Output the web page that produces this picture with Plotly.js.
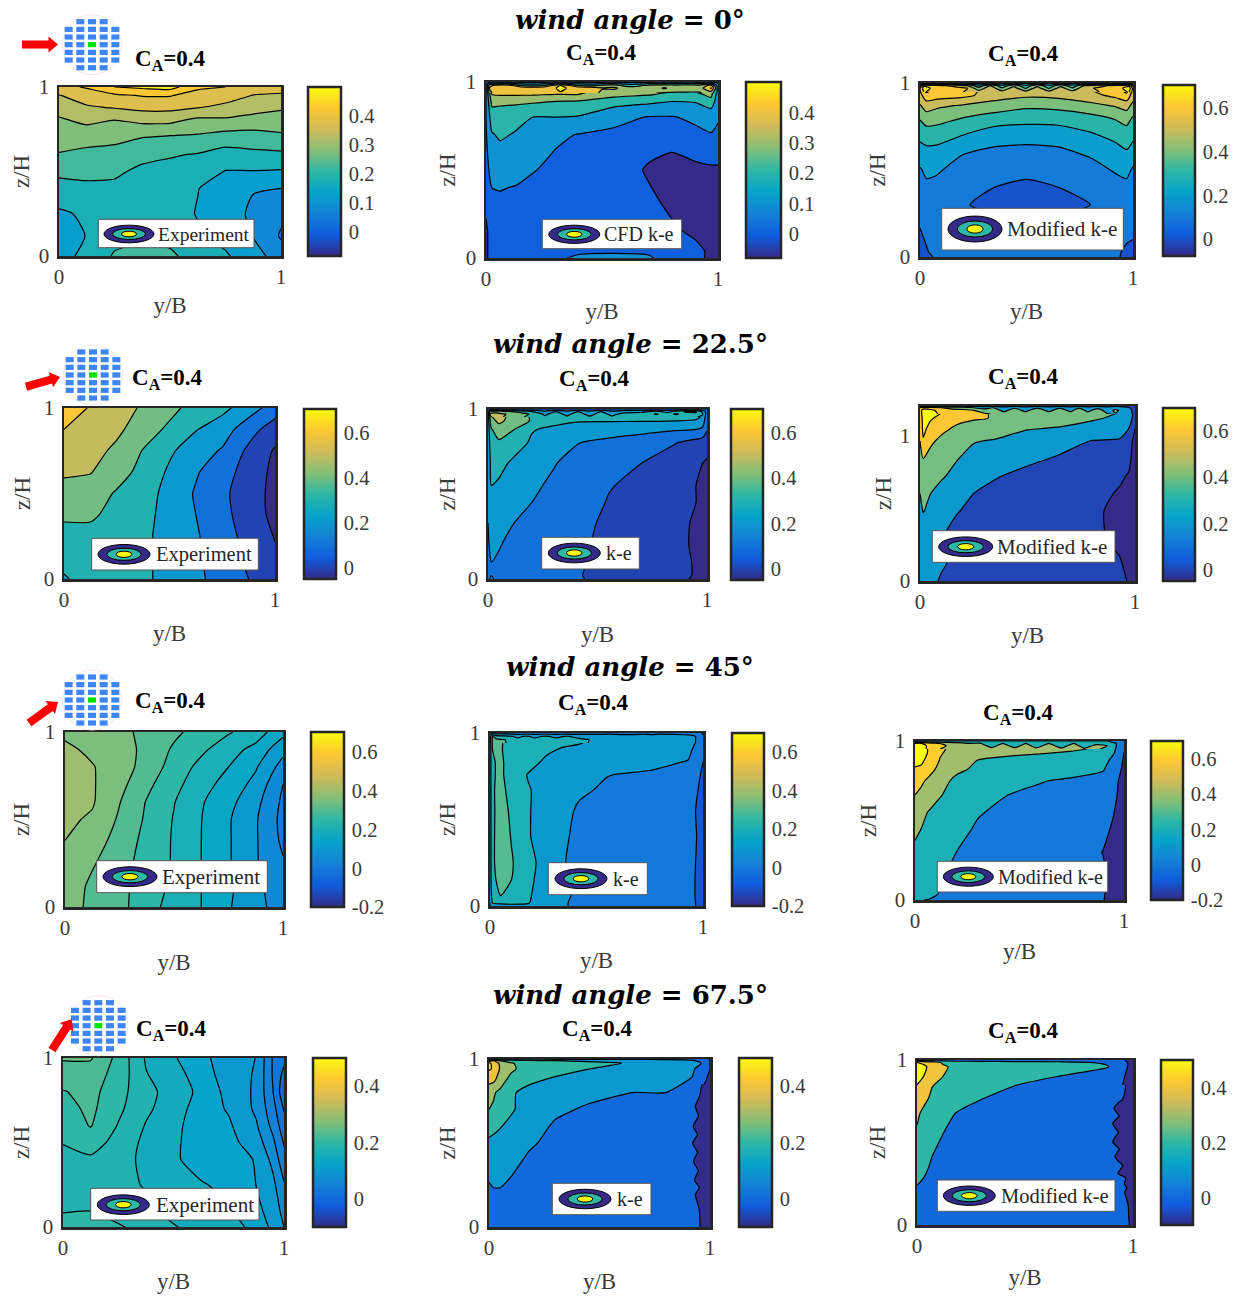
<!DOCTYPE html>
<html>
<head>
<meta charset="utf-8">
<script src="https://cdn.plot.ly/plotly-3.0.1.min.js"></script>
<style>html,body{margin:0;padding:0;background:#fff}#chart{width:1243px;height:1299px}</style>
</head>
<body>
<div id="chart"></div>
<script>
// ---------- readings of the pressure-coefficient fields (rows run bottom to top) ----------
const p1X=[0,.125,.25,.375,.5,.625,.75,.875,1];
const p1Y=[0,.12,.25,.4,.5,.6,.7,.8,.88,.95,1];
const p1Z=[
[.13,.165,.205,.225,.212,.17,.155,.125,.07],
[.12,.152,.185,.185,.18,.155,.137,.098,.045],
[.143,.157,.175,.17,.165,.148,.125,.09,.06],
[.18,.19,.19,.177,.172,.151,.135,.103,.10],
[.212,.212,.208,.19,.185,.177,.148,.148,.145],
[.247,.237,.233,.213,.204,.197,.18,.188,.19],
[.27,.268,.262,.25,.242,.24,.225,.227,.238],
[.292,.31,.297,.31,.31,.286,.29,.278,.277],
[.32,.344,.354,.365,.365,.353,.336,.322,.307],
[.348,.375,.39,.403,.403,.38,.375,.348,.343],
[.385,.405,.45,.46,.47,.41,.40,.375,.37]];

const p2X=[0,.025,.06,.13,.2,.3,.4,.55,.7,.8,.9,.97,1];
const p2Y=[0,.04,.15,.3,.4,.5,.6,.7,.8,.87,.93,.97,.99,1];
const p2Z=[
[-.08,.02,.02,.02,.02,.03,.07,.08,.065,.0,-.02,-.07,-.08],
[-.08,.02,.02,.02,.02,.02,.03,.035,.03,.0,-.02,-.07,-.08],
[-.07,.0,.02,.02,.02,.02,.02,.02,.0,-.03,-.07,-.08,-.08],
[-.03,.03,.03,.025,.02,.02,.015,.01,-.02,-.07,-.08,-.08,-.08],
[.0,.05,.055,.045,.03,.02,.01,.0,-.045,-.08,-.08,-.08,-.08],
[.02,.08,.09,.085,.055,.03,.02,.0,-.06,-.09,-.08,-.07,-.07],
[.03,.11,.12,.12,.085,.045,.03,.015,-.035,-.05,-.02,.0,.0],
[.04,.14,.165,.14,.12,.07,.045,.03,.02,.02,.03,.045,.03],
[.05,.2,.2,.18,.15,.15,.145,.08,.045,.045,.065,.085,.06],
[.05,.26,.255,.25,.23,.2,.19,.165,.14,.115,.13,.18,.09],
[.05,.35,.36,.36,.36,.35,.35,.28,.26,.225,.22,.28,.1],
[.05,.42,.43,.43,.43,.42,.42,.31,.30,.30,.31,.32,.08],
[.03,.3,.3,.33,.28,.33,.3,.2,.25,.18,.25,.3,.05],
[.02,.02,.02,.02,.02,.02,.02,.02,.02,.02,.02,.02,.02]];
// finer readings of the wavy strip along the roof
const p2TopX=[0,.015,.04,.1,.15,.2,.25,.3,.32,.35,.4,.45,.5,.55,.6,.65,.7,.77,.82,.87,.92,.97,.99,1];
const p2TopY=[.94,.965,.98,1];
const p2TopZ=[
[.05,.3,.42,.42,.42,.42,.42,.42,.42,.42,.42,.42,.32,.285,.27,.26,.26,.24,.24,.23,.24,.29,.2,.1],
[.05,.36,.43,.43,.43,.43,.43,.44,.52,.44,.43,.43,.36,.37,.31,.3,.3,.36,.3,.33,.3,.46,.25,.1],
[.04,.3,.38,.4,.25,.22,.25,.4,.45,.38,.25,.22,.28,.3,.22,.22,.28,.3,.28,.3,.28,.38,.2,.08],
[.03,.03,.03,.03,.03,.03,.03,.03,.03,.03,.03,.03,.03,.03,.03,.03,.03,.03,.03,.03,.03,.03,.03,.03]];

const p3X=[0,.03,.08,.2,.35,.5,.65,.8,.92,.97,1];
const p3Y=[0,.03,.1,.2,.3,.4,.5,.6,.7,.8,.87,.93,.97,.99,1];
const p3Z=[
[-.02,.0,.08,.09,.09,.09,.09,.09,.08,.0,-.02],
[.0,.04,.09,.09,.09,.09,.09,.09,.07,.03,.0],
[.03,.06,.1,.085,.07,.065,.07,.08,.09,.06,.05],
[.06,.08,.11,.075,.06,.055,.06,.07,.1,.08,.07],
[.08,.09,.11,.053,.04,.03,.035,.05,.1,.1,.08],
[.1,.13,.125,.075,.05,.035,.05,.065,.115,.13,.1],
[.14,.17,.16,.115,.09,.0675,.08,.115,.16,.17,.14],
[.2,.22,.21,.155,.13,.12,.13,.165,.21,.24,.19],
[.28,.295,.3,.25,.19,.185,.19,.235,.28,.3,.28],
[.36,.40,.385,.35,.31,.29,.295,.32,.36,.39,.34],
[.44,.5,.47,.44,.405,.37,.38,.42,.46,.49,.42],
[.52,.61,.6,.58,.5,.47,.48,.52,.58,.62,.5],
[.55,.72,.62,.58,.52,.5,.5,.56,.62,.72,.52],
[.4,.6,.6,.5,.4,.3,.35,.42,.5,.6,.4],
[.1,.1,.1,.1,.1,.1,.1,.1,.1,.1,.1]];
const p3TopX=[0,.02,.06,.12,.18,.22,.275,.33,.385,.44,.495,.55,.605,.66,.715,.77,.83,.88,.94,.98,1];
const p3TopY=[.95,.97,.985,1];
const p3TopZ=[
[.53,.66,.61,.59,.58,.53,.5,.49,.49,.485,.485,.485,.485,.49,.49,.5,.54,.58,.6,.66,.51],
[.55,.72,.62,.6,.58,.56,.38,.52,.36,.5,.34,.5,.34,.5,.36,.52,.56,.6,.62,.72,.52],
[.42,.62,.6,.55,.5,.45,.28,.45,.28,.42,.27,.42,.27,.42,.28,.45,.5,.55,.6,.62,.42],
[.12,.12,.12,.12,.12,.12,.12,.12,.12,.12,.12,.12,.12,.12,.12,.12,.12,.12,.12,.12,.12]];

const p4X=[0,.125,.25,.375,.5,.625,.75,.875,1];
const p4Y=[0,.12,.25,.375,.5,.625,.75,.875,1];
const p4Z=[
[.24,.29,.28,.27,.215,.17,.115,.05,-.01],
[.28,.30,.285,.27,.215,.165,.105,.03,-.035],
[.31,.32,.30,.27,.215,.16,.095,.015,-.055],
[.37,.365,.32,.28,.215,.15,.08,.0,-.075],
[.41,.40,.34,.29,.22,.14,.07,.0,-.08],
[.465,.455,.39,.32,.235,.16,.09,.01,-.075],
[.50,.485,.43,.345,.265,.20,.14,.03,-.06],
[.55,.515,.47,.40,.33,.255,.20,.09,.0],
[.62,.54,.50,.435,.38,.31,.275,.20,.10]];

const p5X=[0,.015,.05,.12,.2,.3,.42,.55,.7,.85,.95,.98,1];
const p5Y=[0,.02,.1,.2,.33,.45,.55,.68,.8,.88,.93,.97,.99,1];
const p5Z=[
[.14,.16,.13,.11,.10,.09,.06,.0,-.02,-.03,-.06,-.08,-.09],
[.14,.15,.125,.11,.10,.09,.055,.0,-.02,-.03,-.055,-.08,-.09],
[.13,.15,.14,.12,.105,.09,.06,.02,-.01,-.03,-.055,-.07,-.08],
[.14,.17,.155,.125,.11,.095,.065,.025,.0,-.03,-.06,-.07,-.08],
[.15,.18,.175,.15,.12,.10,.07,.035,.01,-.025,-.06,-.07,-.08],
[.16,.2,.19,.175,.15,.115,.09,.045,.02,-.02,-.05,-.07,-.08],
[.17,.25,.24,.2,.165,.135,.10,.055,.03,-.01,-.05,-.07,-.08],
[.18,.28,.27,.235,.2,.155,.115,.085,.05,.0,-.03,-.05,-.06],
[.2,.3,.33,.28,.24,.2,.15,.125,.105,.055,.01,.0,-.02],
[.2,.34,.41,.35,.255,.235,.215,.195,.175,.16,.15,.13,.06],
[.2,.42,.47,.41,.34,.27,.255,.255,.255,.25,.24,.2,.08],
[.2,.46,.48,.42,.33,.28,.28,.28,.28,.28,.29,.25,.1],
[.15,.4,.36,.33,.24,.2,.18,.22,.2,.3,.32,.2,.1],
[.05,.05,.05,.05,.05,.05,.05,.05,.05,.05,.05,.05,.05]];
const p5TopX=[0,.01,.03,.07,.12,.18,.22,.26,.31,.36,.41,.465,.515,.565,.62,.7,.77,.82,.857,.9,.95,.98,1];
const p5TopY=[.95,.97,.985,1];
const p5TopZ=[
[.2,.44,.47,.45,.41,.33,.29,.27,.265,.265,.265,.265,.265,.265,.265,.265,.265,.265,.265,.265,.26,.22,.09],
[.2,.46,.48,.46,.42,.36,.3,.23,.3,.22,.3,.21,.3,.22,.28,.3,.36,.29,.37,.31,.33,.26,.1],
[.15,.4,.42,.38,.34,.28,.22,.17,.25,.17,.25,.17,.25,.17,.22,.22,.28,.22,.28,.36,.36,.22,.1],
[.05,.05,.05,.05,.05,.05,.05,.05,.05,.05,.05,.05,.05,.05,.05,.05,.05,.05,.05,.05,.05,.05,.05]];

const p6X=[0,.015,.05,.1,.17,.25,.35,.5,.65,.8,.93,.97,.99,1];
const p6Y=[0,.12,.3,.48,.6,.72,.84,.96,1.044,1.116,1.164,1.188,1.2];
const p6Z=[
[.12,.13,.12,.09,.06,.04,.03,.03,.03,.03,-.02,-.12,-.15,-.15],
[.12,.13,.13,.11,.08,.05,.03,.02,.0,-.02,-.09,-.13,-.14,-.15],
[.14,.16,.15,.105,.07,.06,.04,.01,-.03,-.07,-.13,-.14,-.14,-.15],
[.25,.31,.24,.17,.105,.08,.05,.02,-.02,-.07,-.14,-.14,-.14,-.15],
[.3,.34,.3,.24,.16,.1,.06,.03,.0,-.05,-.115,-.14,-.14,-.15],
[.35,.39,.36,.32,.25,.17,.11,.06,.03,.0,-.08,-.11,-.14,-.15],
[.42,.5,.44,.38,.31,.24,.19,.13,.085,.05,.0,-.06,-.13,-.15],
[.5,.68,.53,.46,.37,.31,.285,.2,.15,.095,.08,.03,-.12,-.15],
[.55,.75,.63,.54,.47,.41,.38,.31,.285,.24,.18,.1,.0,-.1],
[.6,.75,.72,.64,.55,.52,.49,.39,.37,.32,.27,.2,.08,-.05],
[.6,.8,.76,.72,.62,.55,.47,.38,.38,.38,.3,.22,.1,-.05],
[.5,.7,.72,.6,.5,.4,.32,.22,.3,.2,.3,.2,.1,.0],
[.05,.05,.05,.05,.05,.05,.05,.05,.05,.05,.05,.05,.05,-.05]];
const p6TopX=[0,.015,.05,.1,.15,.2,.25,.3,.34,.39,.44,.49,.545,.6,.65,.7,.74,.78,.825,.87,.91,.95,.985,1];
const p6TopY=[1.146,1.17,1.188,1.2];
const p6TopZ=[
[.6,.78,.74,.68,.58,.55,.53,.52,.49,.38,.38,.38,.38,.38,.38,.38,.37,.36,.34,.31,.29,.26,.1,-.05],
[.6,.8,.76,.6,.55,.55,.5,.42,.4,.25,.39,.25,.4,.25,.4,.25,.4,.25,.38,.24,.33,.24,.1,-.05],
[.5,.6,.58,.5,.45,.4,.3,.2,.3,.16,.28,.16,.28,.16,.28,.16,.28,.16,.26,.15,.24,.16,.08,-.05],
[.05,.05,.05,.05,.05,.05,.05,.05,.05,.05,.05,.05,.05,.05,.05,.05,.05,.05,.05,.05,.05,.05,.05,-.05]];

const p7X=[0,.125,.25,.375,.5,.625,.75,.875,1];
const p7Y=[0,.12,.25,.38,.5,.6,.7,.8,.9,1];
const p7Z=[
[.345,.315,.29,.245,.205,.175,.13,.085,.06],
[.355,.315,.29,.25,.215,.175,.135,.085,.05],
[.365,.33,.295,.255,.22,.175,.13,.08,.03],
[.375,.35,.305,.26,.22,.175,.13,.08,.015],
[.385,.368,.318,.267,.222,.176,.13,.08,.01],
[.39,.38,.327,.272,.227,.18,.14,.09,.015],
[.395,.38,.34,.287,.24,.195,.155,.11,.025],
[.39,.378,.35,.305,.255,.21,.175,.13,.055],
[.385,.365,.35,.31,.268,.235,.195,.16,.09],
[.365,.35,.34,.31,.285,.255,.23,.20,.14]];

const p8X=[0,.012,.05,.1,.18,.26,.34,.42,.55,.75,.93,.965,1];
const p8Y=[0,.02,.06,.15,.25,.4,.55,.67,.76,.83,.9,.95,.98,1];
const p8Z=[
[.05,.1,.12,.13,.14,.1,.06,.03,.02,.01,.0,-.05,-.1],
[.05,.16,.17,.17,.155,.1,.055,.04,.03,.02,.0,-.05,-.09],
[.08,.2,.25,.22,.16,.105,.06,.04,.03,.025,.01,-.055,-.08],
[.1,.22,.29,.25,.17,.11,.065,.04,.03,.02,.01,-.055,-.08],
[.1,.23,.31,.26,.175,.12,.055,.03,.02,.01,.01,-.05,-.08],
[.1,.23,.31,.245,.155,.12,.06,.035,.025,.02,.015,-.045,-.08],
[.1,.23,.3,.23,.155,.12,.07,.04,.03,.02,.015,-.05,-.08],
[.1,.24,.28,.215,.155,.125,.095,.06,.04,.03,.02,-.04,-.07],
[.1,.24,.27,.2,.145,.125,.1,.09,.052,.04,.035,-.03,-.06],
[.1,.24,.27,.2,.18,.135,.115,.105,.09,.07,.045,.0,-.05],
[.1,.25,.26,.2,.19,.165,.14,.125,.105,.085,.07,.03,-.04],
[.1,.27,.26,.2,.195,.18,.17,.16,.105,.1,.08,.05,-.04],
[.1,.26,.2,.17,.17,.17,.16,.16,.11,.11,.09,.05,-.04],
[.0,.0,.0,.0,.0,.0,.0,.0,.0,.0,.0,.0,-.06]];
const p8TopX=[0,.012,.03,.07,.1,.13,.17,.21,.26,.31,.36,.41,.46,.5,.56,.62,.68,.72,.76,.8,.86,.93,.965,1];
const p8TopY=[.94,.96,.98,1];
const p8TopZ=[
[.1,.27,.26,.26,.2,.2,.19,.19,.18,.175,.17,.165,.15,.11,.1,.1,.1,.1,.1,.1,.09,.08,.05,-.04],
[.1,.28,.27,.255,.2,.19,.2,.19,.2,.19,.2,.18,.155,.12,.11,.11,.11,.11,.11,.11,.1,.09,.05,-.04],
[.1,.26,.2,.18,.16,.12,.17,.12,.17,.12,.16,.12,.12,.12,.15,.11,.11,.14,.11,.15,.12,.09,.05,-.04],
[.0,.0,.0,.0,.0,.0,.0,.0,.0,.0,.0,.0,.0,.0,.0,.0,.0,.0,.0,.0,.0,.0,.0,-.06]];

const p9X=[0,.03,.07,.12,.2,.3,.45,.6,.75,.9,.95,.98,1];
const p9Y=[0,.04,.15,.3,.45,.55,.66,.75,.82,.88,.93,.97,.985,1];
const p9Z=[
[.12,.105,.09,.07,.05,.04,.03,.02,.01,-.09,-.2,-.2,-.2],
[.2,.19,.15,.09,.06,.04,.03,.03,.02,-.08,-.19,-.2,-.2],
[.22,.21,.18,.11,.075,.05,.03,.02,.01,-.07,-.18,-.2,-.2],
[.27,.25,.22,.17,.098,.065,.04,.03,.01,-.105,-.18,-.2,-.2],
[.33,.3,.27,.21,.14,.085,.05,.03,.0,-.06,-.12,-.18,-.2],
[.44,.34,.285,.24,.17,.11,.065,.04,.02,-.04,-.095,-.15,-.2],
[.5,.46,.38,.31,.23,.16,.098,.08,.06,.0,-.06,-.13,-.18],
[.6,.53,.46,.36,.26,.2,.145,.105,.085,.04,-.04,-.12,-.16],
[.68,.66,.55,.45,.33,.27,.21,.17,.14,.11,.02,-.08,-.14],
[.75,.74,.63,.49,.4,.3,.26,.23,.2,.17,.05,-.05,-.12],
[.8,.76,.68,.52,.43,.37,.34,.32,.29,.26,.12,.0,-.1],
[.8,.78,.66,.55,.43,.38,.36,.36,.36,.3,.15,.03,-.08],
[.7,.7,.55,.5,.4,.3,.22,.28,.25,.2,.15,.03,-.08],
[.1,.1,.1,.1,.1,.1,.1,.1,.1,.1,-.05,-.05,-.05]];
const p9TopX=[0,.03,.06,.1,.15,.2,.26,.31,.366,.42,.478,.53,.58,.64,.7,.76,.81,.87,.92,.95,.98,1];
const p9TopY=[.95,.97,.985,1];
const p9TopZ=[
[.8,.77,.68,.54,.44,.43,.4,.38,.35,.35,.35,.34,.34,.33,.33,.33,.32,.31,.28,.14,.02,-.09],
[.8,.78,.68,.56,.5,.44,.4,.38,.24,.37,.23,.37,.23,.37,.23,.37,.23,.34,.3,.15,.03,-.08],
[.7,.7,.6,.52,.46,.4,.3,.32,.14,.3,.13,.3,.14,.3,.14,.3,.14,.25,.2,.15,.03,-.08],
[.1,.1,.1,.1,.1,.1,.1,.1,.1,.1,.1,.1,.1,.1,.1,.1,.1,.1,.1,-.05,-.05,-.05]];

const p10X=[0,.125,.25,.375,.5,.625,.75,.875,.95,1];
const p10Y=[0,.1,.25,.4,.5,.6,.7,.8,.9,1];
const p10Z=[
[.195,.195,.19,.18,.165,.15,.145,.132,.105,.0875],
[.186,.187,.178,.17,.152,.145,.14,.12,.1,.08],
[.18,.178,.172,.16,.145,.14,.13,.112,.094,.065],
[.184,.184,.175,.155,.142,.125,.122,.111,.08,.045],
[.188,.197,.18,.156,.143,.123,.12,.10,.068,.035],
[.196,.214,.186,.161,.145,.123,.116,.09,.055,.023],
[.203,.218,.193,.167,.15,.125,.11,.083,.047,.01],
[.211,.22,.198,.168,.155,.13,.105,.083,.038,-.005],
[.225,.225,.203,.164,.148,.125,.10,.085,.035,.005],
[.24,.24,.205,.16,.14,.12,.098,.087,.035,.02]];

const p11X=[0,.02,.05,.1,.18,.3,.45,.65,.8,.92,.96,1];
const p11Y=[0,.2,.3,.4,.5,.6,.7,.8,.88,.94,.975,.99,1];
const p11Z=[
[.02,.02,.02,.0,.0,.0,.0,.0,.0,-.01,-.06,-.09],
[.04,.045,.045,.02,.0,.0,.0,.0,.0,-.03,-.07,-.09],
[.055,.06,.06,.05,.02,.01,.0,.0,.0,-.03,-.07,-.09],
[.08,.08,.08,.07,.04,.02,.01,.0,-.01,-.045,-.07,-.09],
[.125,.13,.12,.1,.06,.03,.01,.0,-.01,-.06,-.08,-.09],
[.2,.17,.155,.13,.085,.04,.02,.01,.0,-.04,-.07,-.09],
[.25,.24,.2,.16,.115,.065,.04,.025,.01,-.02,-.06,-.09],
[.3,.26,.23,.16,.125,.1,.07,.05,.05,.0,-.05,-.08],
[.38,.38,.3,.22,.17,.14,.115,.1,.09,.045,-.02,-.07],
[.46,.44,.34,.27,.2,.18,.15,.12,.1,.065,.01,-.05],
[.47,.42,.33,.26,.2,.19,.18,.14,.1,.08,.05,-.05],
[.3,.35,.25,.2,.17,.15,.13,.11,.08,.06,.03,-.05],
[.03,.03,.03,.03,.03,.03,.03,.03,.03,.03,.03,-.06]];
// finer readings of the wavy strip along the leeward wall
const p11SideX=[.88,.92,.94,.96,1];
const p11SideY=[0,.1,.19,.235,.28,.335,.39,.445,.5,.55,.6,.66,.72,.78,.85];
const p11SideZ=[
[-.01,-.01,-.02,-.06,-.09],
[-.01,-.02,-.03,-.065,-.09],
[-.02,-.03,-.06,-.075,-.09],
[-.02,-.03,-.035,-.06,-.09],
[-.02,-.035,-.065,-.08,-.09],
[-.02,-.035,-.04,-.065,-.09],
[-.03,-.042,-.07,-.08,-.09],
[-.03,-.04,-.045,-.07,-.09],
[-.03,-.048,-.075,-.08,-.09],
[-.03,-.04,-.045,-.07,-.09],
[-.02,-.045,-.07,-.08,-.09],
[-.015,-.03,-.04,-.065,-.09],
[-.01,-.03,-.06,-.07,-.09],
[.0,-.02,-.03,-.06,-.085],
[.02,.0,-.02,-.045,-.08]];

const p12X=[0,.03,.07,.12,.18,.3,.45,.65,.88,.93,.97,1];
const p12Y=[0,.24,.35,.45,.55,.68,.77,.85,.9,.96,.985,1];
const p12Z=[
[.02,.01,.0,.0,.0,.0,.0,.0,.0,.0,-.05,-.15],
[.1,.08,.05,.03,.01,.0,.0,.0,.0,-.02,-.12,-.18],
[.16,.13,.08,.05,.03,.01,.0,.0,.0,-.095,-.15,-.18],
[.2,.16,.11,.07,.04,.02,.01,.0,-.05,-.14,-.17,-.18],
[.27,.22,.16,.1,.06,.03,.02,.01,-.07,-.14,-.17,-.18],
[.34,.26,.2,.15,.1,.05,.03,.02,-.07,-.13,-.17,-.18],
[.45,.36,.26,.19,.15,.105,.05,.03,-.02,-.1,-.16,-.18],
[.5,.42,.31,.26,.2,.16,.105,.05,.0,-.05,-.14,-.17],
[.55,.5,.37,.3,.23,.18,.15,.1,.02,-.02,-.12,-.16],
[.58,.55,.42,.32,.27,.25,.21,.17,.11,.05,-.09,-.15],
[.5,.45,.38,.28,.22,.18,.16,.14,.08,.03,-.09,-.15],
[.0,.0,.0,.0,.0,.0,.0,.0,.0,.0,-.12,-.15]];
const p12SideX=[.85,.9,.93,.96,.98,1];
const p12SideY=[0,.12,.2,.225,.25,.28,.313,.36,.414,.46,.505,.56,.616,.66,.707,.76,.85];
const p12SideZ=[
[.0,.0,.0,.0,-.09,-.15],
[.0,.0,.0,-.02,-.11,-.17],
[.0,.0,-.03,-.095,-.14,-.18],
[.0,.0,-.02,-.07,-.125,-.18],
[.0,-.02,-.05,-.1,-.15,-.18],
[.0,-.02,-.05,-.08,-.14,-.18],
[.0,-.04,-.1,-.14,-.16,-.18],
[.0,-.03,-.07,-.11,-.16,-.18],
[-.02,-.07,-.125,-.15,-.17,-.18],
[-.02,-.05,-.09,-.13,-.17,-.18],
[-.03,-.09,-.14,-.16,-.17,-.18],
[-.03,-.06,-.095,-.13,-.17,-.18],
[-.03,-.09,-.14,-.16,-.17,-.18],
[-.03,-.06,-.09,-.13,-.17,-.18],
[-.02,-.08,-.13,-.15,-.17,-.18],
[.0,-.03,-.08,-.11,-.16,-.18],
[.0,-.02,-.04,-.08,-.14,-.18]];

const windAngles=['0','22.5','45','67.5'];
const legendNames=['Experiment','CFD k-e','Modified k-e','Experiment','k-e','Modified k-e','Experiment','k-e','Modified k-e','Experiment','k-e','Modified k-e'];
const barTicks=[[0,.1,.2,.3,.4],[0,.1,.2,.3,.4],[0,.2,.4,.6],[0,.2,.4,.6],[0,.2,.4,.6],[0,.2,.4,.6],[-.2,0,.2,.4,.6],[-.2,0,.2,.4,.6],[-.2,0,.2,.4,.6],[0,.2,.4],[0,.2,.4],[0,.2,.4]];
const barRange=[[-.083,.5],[-.08,.5],[-.077,.705],[-.048,.705],[-.048,.705],[-.05,.7],[-.2,.705],[-.2,.7],[-.2,.7],[-.1,.5],[-.1,.5],[-.098,.5]];
const levels=[[0,.45,.05],[-.15,.45,.1],[-.15,.65,.1],[-.15,.65,.1],[-.15,.65,.1],[-.3,.7,.2],[-.025,.425,.05],[-.15,.35,.1],[-.3,.7,.2],[-.0375,.2375,.025],[-.15,.45,.1],[-.3,.5,.2]];

// ---------- layout geometry in page pixels ----------
const W=1243,H=1299;
const boxes=[[59,281,87,256],[486,718,82,258],[920,1133,83,257],[64,275,408,579],[488,707,409,579],[920,1135,406,581],[65,283,732,907],[490,703,733,906],[915,1124,741,900],[63,284,1058,1227],[489,710,1059,1227],[917,1133,1060,1225]];
const bars=[[308,341,87,256],[746,781,82,258],[1163,1195,85,256],[304,336,409,579],[731,763,409,580],[1163,1195,408,581],[311,344,732,907],[732,764,733,906],[1151,1183,741,900],[313,346,1058,1227],[739,772,1058,1227],[1161,1193,1060,1225]];
const legendBoxes=[[98.3,219.3,254,247.7],[542.3,219.3,681.7,248.7],[941.7,208.3,1123.3,250],[91.7,538.3,258.3,570],[541.7,537.3,639.3,569],[932.3,530.7,1115,562.3],[96.7,860.7,267.3,892.7],[548.3,862.7,647.3,894.7],[937.3,861.3,1107.7,892],[90.7,1188.3,259,1220],[552.3,1183.3,651,1214.7],[937.3,1180,1115,1211.3]];
const legendMarks=[[129,234,25],[574.3,234.3,25.5],[975,229,27],[124,554.3,26],[574.3,553,26],[965.7,546.7,27],[130,876.7,27],[581,878.7,26],[968.3,876.7,25],[123.3,1204.7,26],[585,1199,26],[969.3,1195.7,26]];
const legendTextX=[156,602.3,1004.7,154,603.7,995.3,160,611,996,153.7,615,998.7];
const legendTextSize=[19.5,20,21,20.5,20,21,21,20,20,21,20,20.5];
const caLabels=[[133,60],[564,54],[986,55],[129.7,379],[557,380],[986,378],[133,702],[556,704],[981,714],[133.7,1030],[559.7,1030],[985.7,1031.7]];
const xTitleOffset=[50,54,55,55,56,55,56,55,52,55,55,53];
const yTitleOffset=[37,38,42,41,40,36,43,42,46,41,41,39];
const titleY=[20,344,667,995];
const iconCentres=[[92,44.7],[93,375],[92,700],[98.3,1025.7]];
const arrows=[[22,44.5,58,44.5],[26,386.7,60,377],[29,723,58,702],[52,1050,71.7,1019.3]];

const X=[p1X,p2X,p3X,p4X,p5X,p6X,p7X,p8X,p9X,p10X,p11X,p12X];
const Y=[p1Y,p2Y,p3Y,p4Y,p5Y,p6Y,p7Y,p8Y,p9Y,p10Y,p11Y,p12Y];
const Z=[p1Z,p2Z,p3Z,p4Z,p5Z,p6Z,p7Z,p8Z,p9Z,p10Z,p11Z,p12Z];
const detail=[[1,p2TopX,p2TopY,p2TopZ],[2,p3TopX,p3TopY,p3TopZ],[4,p5TopX,p5TopY,p5TopZ],[5,p6TopX,p6TopY,p6TopZ],[7,p8TopX,p8TopY,p8TopZ],[8,p9TopX,p9TopY,p9TopZ],[10,p11SideX,p11SideY,p11SideZ],[11,p12SideX,p12SideY,p12SideZ]];

// ---------- parula ----------
const parulaStops=['#352a87','#0f5cdd','#1481d6','#06a4ca','#2eb7a4','#87bf77','#d1bb59','#fec832','#f9fb0e'];
const parulaScale=parulaStops.map((c,i)=>[i/(parulaStops.length-1),c]);
function hexRgb(h){return [1,3,5].map(k=>parseInt(h.substr(k,2),16));}
function parula(f){
  f=Math.max(0,Math.min(1,f));
  const p=f*(parulaStops.length-1),i=Math.min(Math.floor(p),parulaStops.length-2),t=p-i;
  const a=hexRgb(parulaStops[i]),b=hexRgb(parulaStops[i+1]);
  return 'rgb('+a.map((v,k)=>Math.round(v+(b[k]-v)*t)).join(',')+')';
}
// Filled contours stretch their colorscale over the contour levels, so remap it to the colour-bar range.
function bandScale(lv,r){
  const nc=Math.floor((lv[1]-lv[0])/lv[2]+1e-6)+1,span=nc*lv[2],out=[];
  for(let i=0;i<=60;i++){const s=i/60,v=lv[0]+s*span-lv[2]/2;out.push([s,parula((v-r[0])/(r[1]-r[0]))]);}
  return out;
}

const px=x=>x/W, py=y=>1-y/H;
const serif='"Liberation Serif","Times New Roman",serif';
const inkGrey='#3a3a3a', frame='#262626';
const data=[],shapes=[],annotations=[];
const layout={width:W,height:H,margin:{l:0,r:0,t:0,b:0,pad:0,autoexpand:false},paper_bgcolor:'#fff',plot_bgcolor:'#fff',showlegend:false,font:{family:serif,color:inkGrey}};
const contourTrace=(i,n,x,y,z)=>{
  const lv=levels[i];
  return {type:'contour',x:x,y:y,z:z,xaxis:'x'+n,yaxis:'y'+n,autocontour:false,showscale:false,hoverinfo:'skip',
    colorscale:bandScale(lv,barRange[i]),contours:{start:lv[0],end:lv[1],size:lv[2],coloring:'fill',showlines:true},line:{color:'#000',width:1.2,smoothing:.6}};
};
// Detail strips end on a whole pixel so that their inner edge leaves no anti-aliased seam.
const snap=(v,hi,len)=>Math.round(v/hi*len)/len*hi;

for(let i=0;i<12;i++){
  const n=i===0?'':String(i+1),b=boxes[i],c=bars[i],r=barRange[i];
  const ymax=Y[i][Y[i].length-1],xLen=b[1]-b[0],yLen=b[3]-b[2];
  layout['xaxis'+n]={domain:[px(b[0]),px(b[1])],range:[0,1],anchor:'y'+n,tickmode:'array',tickvals:[0,1],ticktext:['0','1'],ticks:'',tickfont:{family:serif,size:21,color:inkGrey},showline:true,mirror:true,linewidth:2.5,linecolor:frame,showgrid:false,zeroline:false,automargin:true,title:{text:'y/B',font:{family:serif,size:23,color:inkGrey},standoff:xTitleOffset[i]-41}};
  layout['yaxis'+n]={domain:[py(b[3]),py(b[2])],range:[0,ymax],anchor:'x'+n,tickmode:'array',tickvals:[0,1],ticktext:['0','1'],ticks:'outside',ticklen:3,tickcolor:'rgba(0,0,0,0)',tickfont:{family:serif,size:21,color:inkGrey},showline:true,mirror:true,linewidth:2.5,linecolor:frame,showgrid:false,zeroline:false,automargin:true,title:{text:'z/H',font:{family:serif,size:23,color:inkGrey},standoff:yTitleOffset[i]-34}};
  data.push({type:'heatmap',x:X[i],y:Y[i],z:Z[i],xaxis:'x'+n,yaxis:'y'+n,zmin:r[0],zmax:r[1],colorscale:parulaScale,hoverinfo:'skip',
    colorbar:{x:px(c[0]),xanchor:'left',xpad:0,y:py(c[2]),yanchor:'top',ypad:0,len:c[3]-c[2],lenmode:'pixels',thickness:c[1]-c[0],thicknessmode:'pixels',outlinewidth:2.5,outlinecolor:frame,borderwidth:0,
      tickmode:'array',tickvals:barTicks[i],ticktext:barTicks[i].map(String),ticks:'outside',ticklen:3,tickwidth:1,tickcolor:'rgba(0,0,0,0)',tickfont:{family:serif,size:20.5,color:inkGrey}}});
  data.push(contourTrace(i,n,X[i],Y[i],Z[i]));
  detail.filter(d=>d[0]===i).forEach(d=>{
    const sx=d[1].slice(),sy=d[2].slice(),last=sy.length-1;
    if(sx[0]>0)sx[0]=snap(sx[0],1,xLen);
    if(sy[0]>0)sy[0]=snap(sy[0],ymax,yLen);
    if(sy[last]<ymax)sy[last]=snap(sy[last],ymax,yLen);
    data.push(contourTrace(i,n,sx,sy,d[3]));
  });

  // short tick marks on the inside of the colour bar
  barTicks[i].forEach(v=>{
    const ty=c[3]-(v-r[0])/(r[1]-r[0])*(c[3]-c[2]);
    shapes.push({type:'line',xref:'paper',yref:'paper',x0:px(c[1]-3),x1:px(c[1]),y0:py(ty),y1:py(ty),line:{color:frame,width:1.5}});
  });

  const lb=legendBoxes[i],lm=legendMarks[i],boxH=lb[3]-lb[1];
  shapes.push({type:'rect',xref:'paper',yref:'paper',x0:px(lb[0]),x1:px(lb[2]),y0:py(lb[3]),y1:py(lb[1]),fillcolor:'#fff',line:{color:'#555',width:1}});
  [[1,1,'#352a87'],[.66,.62,'#2eb7a4'],[.3,.32,'#f9fb0e']].forEach(e=>{
    const rx=lm[2]*e[0],ry=boxH*.31*e[1];
    shapes.push({type:'circle',xref:'paper',yref:'paper',x0:px(lm[0]-rx),x1:px(lm[0]+rx),y0:py(lm[1]+ry),y1:py(lm[1]-ry),fillcolor:e[2],line:{color:'#000',width:1}});
  });
  annotations.push({xref:'paper',yref:'paper',x:px(legendTextX[i]),y:py(lm[1]),xanchor:'left',yanchor:'middle',showarrow:false,text:legendNames[i],font:{family:serif,size:legendTextSize[i],color:'#262626'}});
  annotations.push({xref:'paper',yref:'paper',x:px(caLabels[i][0]),y:py(caLabels[i][1]),xanchor:'left',yanchor:'middle',showarrow:false,text:'<b>C<sub>A</sub>=0.4</b>',font:{family:serif,size:23,color:'#000'}});
}

// wind-angle headings
windAngles.forEach((a,k)=>annotations.push({xref:'paper',yref:'paper',x:px(630),y:py(titleY[k]),xanchor:'center',yanchor:'middle',showarrow:false,
  text:'<b><i>wind angle</i> = '+a+'°</b>',font:{family:'"DejaVu Serif",serif',size:26,color:'#000'}}));

// pressure-tap icons and wind arrows
const tapRows=[[-1,0,1],[-2,-1,0,1,2],[-2,-1,0,1,2],[-2,-1,0,1,2],[-2,-1,0,1,2],[-2,-1,0,1,2],[-1,0,1]];
iconCentres.forEach((c,k)=>{
  shapes.push({type:'circle',xref:'paper',yref:'paper',x0:px(c[0]-29.5),x1:px(c[0]+29.5),y0:py(c[1]+30),y1:py(c[1]-30),line:{color:'#f6e8e2',width:1},fillcolor:'rgba(0,0,0,0)'});
  tapRows.forEach((row,j)=>row.forEach(m=>{
    const cx=c[0]+m*11.67,cy=c[1]+(j-3)*7.67,hot=(j===3&&m===0);
    shapes.push({type:'rect',xref:'paper',yref:'paper',x0:px(cx-4),x1:px(cx+4),y0:py(cy+2.6),y1:py(cy-2.6),fillcolor:hot?'#00e400':'#3d85f5',line:{width:0}});
  }));
  const a=arrows[k],dx=a[2]-a[0],dy=a[3]-a[1],L=Math.hypot(dx,dy),ux=dx/L,uy=dy/L,nx=-uy,ny=ux,hl=9.5,hw=8,bw=4.1;
  const P=(al,ac)=>[a[0]+ux*al+nx*ac,a[1]+uy*al+ny*ac];
  const pts=[P(0,bw),P(L-hl,bw),P(L-hl,hw),P(L,0),P(L-hl,-hw),P(L-hl,-bw),P(0,-bw)];
  shapes.push({type:'path',xref:'paper',yref:'paper',path:pts.map((q,t)=>(t?'L':'M')+px(q[0])+','+py(q[1])).join(' ')+' Z',fillcolor:'#fa0000',line:{width:0}});
});

layout.shapes=shapes;layout.annotations=annotations;
Plotly.newPlot('chart',data,layout,{displayModeBar:false,staticPlot:true});
</script>
</body>
</html>
